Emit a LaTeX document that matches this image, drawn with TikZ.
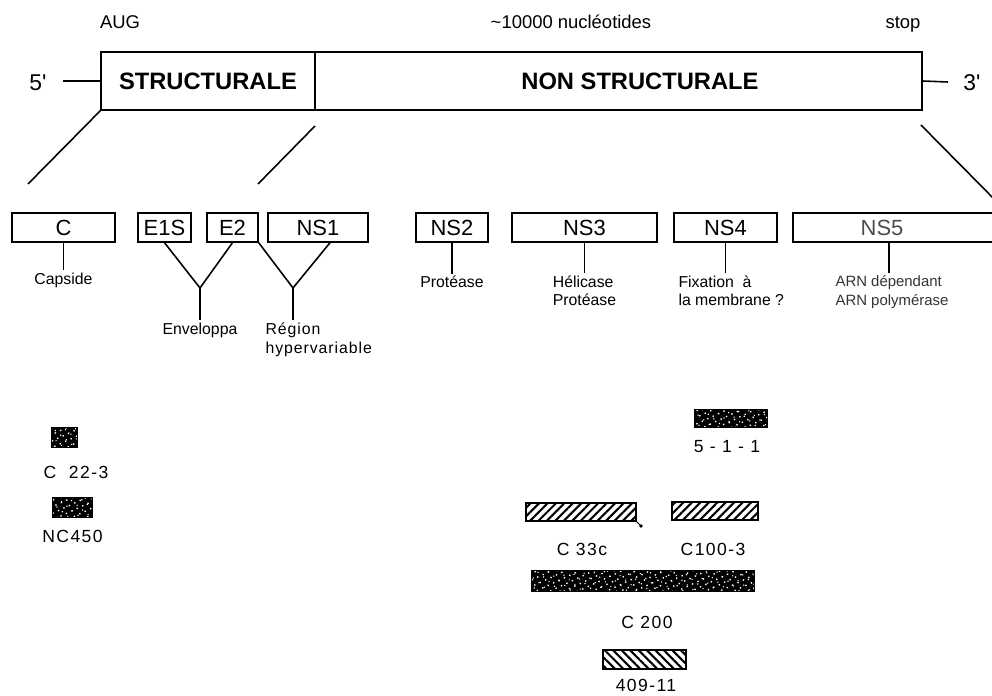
\documentclass[tikz,border=0pt]{standalone}
\usepackage{fontspec}
\setmainfont{Liberation Sans}
\usetikzlibrary{patterns.meta}

\begin{document}
\begin{tikzpicture}[x=0.02cm,y=-0.02cm,line width=0.9pt]
\tikzstyle{seg}=[draw, rectangle, line width=0.8pt, inner sep=0pt, minimum height=1.16cm]
\tikzstyle{segtext}=[font={\fontsize{13.5}{16}\selectfont\bfseries}]
\tikzstyle{prot}=[draw, rectangle, line width=0.8pt, inner sep=0pt, minimum height=0.58cm, font={\fontsize{12.5}{14}\selectfont}]
\tikzstyle{toplabel}=[font={\fontsize{10.5}{12}\selectfont}]
\tikzstyle{primelabel}=[font={\fontsize{13}{15}\selectfont}]
\tikzstyle{funclabel}=[inner sep=1pt, font={\fontsize{9}{10.6}\selectfont}]
\tikzstyle{bar}=[draw, line width=0.6pt, inner sep=0pt]
\tikzstyle{speck}=[bar, fill=black,
  postaction={pattern={Dots[distance=3.4pt,radius=0.55pt,angle=25]},pattern color=white},
  postaction={pattern={Dots[distance=4.1pt,radius=0.45pt,angle=-40,xshift=1pt]},pattern color=white}]
\tikzstyle{hatch}=[bar, pattern={Lines[angle=45,distance=3.4pt,line width=1.2pt]}]
\tikzstyle{rhatch}=[bar, pattern={Lines[angle=-45,distance=3.4pt,line width=1.2pt]}]
\tikzstyle{barlabel}=[font={\fontsize{10}{12}\selectfont\addfontfeature{LetterSpace=8}}]

\useasboundingbox (0,0) rectangle (992,696);

% genome
\draw (208,81) node[seg, minimum width=4.28cm] (struct) {};
\draw (618.5,81) node[seg, minimum width=12.14cm] (nonstruct) {};
\node[segtext] (structlbl) at (208,81) {STRUCTURALE};
\node[segtext] (nonstructlbl) at (640,81) {NON STRUCTURALE};

\node[toplabel] (aug) at (120,22) {AUG};
\node[toplabel] (nt) at (571,22) {\textasciitilde 10000 nucléotides};
\node[toplabel] (stop) at (903,24) {stop};
\node[primelabel] (five) at (38,83) {5\textquotesingle};
\node[primelabel] (three) at (972,83) {3\textquotesingle};
\coordinate (fiveend) at (63,81);
\coordinate (threeend) at (948,82);
\draw (fiveend) -- (struct.west);
\draw (nonstruct.east) -- (threeend);

% zoom lines
\coordinate (zl) at (28,184);
\coordinate (zm1) at (315,126);
\coordinate (zm2) at (258,184);
\coordinate (zr1) at (921,125);
\coordinate (zr2) at (998,203);
\draw (struct.south west) -- (zl);
\draw (zm1) -- (zm2);
\draw (zr1) -- (zr2);

% proteins
\draw (63.5,227.5) node[prot, minimum width=2.06cm] (C) {C};
\draw (164.5,227.5) node[prot, minimum width=1.06cm] (E1S) {E1S};
\draw (232.5,227.5) node[prot, minimum width=1.02cm] (E2) {E2};
\draw (318,227.5) node[prot, minimum width=2.0cm] (NS1) {NS1};
\draw (452,227.5) node[prot, minimum width=1.44cm] (NS2) {NS2};
\draw (584.5,227.5) node[prot, minimum width=2.9cm] (NS3) {NS3};
\draw (725.5,227.5) node[prot, minimum width=2.06cm] (NS4) {NS4};
\draw (894.5,227.5) node[prot, minimum width=4.06cm, text=black!70] (NS5) {NS5\hspace*{0.5cm}};

% functions
\node[funclabel] (capside) at (63.5,280) {Capside};
\draw (C.south) -- (capside.north);

\coordinate (envY) at (200,288);
\node[funclabel] (env) at (200,330) {Enveloppa};
\draw (E1S.south) -- (envY) -- (E2.south);
\draw (envY) -- (env.north);

\coordinate (hvY) at (293,288);
\node[funclabel, align=left, anchor=north west, font={\fontsize{9}{10.8}\selectfont\addfontfeature{LetterSpace=6}}] (hyper) at (263,320) {Région\\hypervariable};
\draw (E2.south east) -- (hvY) -- ([xshift=0.24cm]NS1.south);
\draw (hvY) -- (hvY |- hyper.north);

\node[funclabel] (prot2) at (452,282) {Protéase};
\draw (NS2.south) -- (prot2.north);

\node[funclabel, align=left, anchor=north] (ns3cap) at (584.5,273) {Hélicase\\Protéase};
\draw (NS3.south) -- (ns3cap.north);

\node[funclabel, align=left, anchor=north west] (ns4cap) at (676,273) {Fixation\ \ à\\la membrane ?};
\draw (NS4.south) -- (NS4.south |- ns4cap.north);

\node[funclabel, align=left, anchor=north west, font={\fontsize{8.5}{10.6}\selectfont}, text=black!80] (ns5cap) at (833,273) {ARN dépendant\\ARN polymérase};
\draw ([xshift=-0.11cm]NS5.south) -- ([xshift=-0.11cm]NS5.south |- ns5cap.north);

% antigens
\draw (64.5,437.5) node[speck, minimum width=0.5cm, minimum height=0.38cm] (c22) {};
\node[barlabel] (c22lbl) at (76,472) {C\ \ 22-3};
\draw (72.5,507.5) node[speck, minimum width=0.78cm, minimum height=0.38cm] (nc450) {};
\node[barlabel] (nc450lbl) at (72.5,536) {NC450};

\draw (731,418.5) node[speck, minimum width=1.44cm, minimum height=0.34cm] (p511) {};
\node[barlabel] (p511lbl) at (727,447) {5 - 1 - 1};

\draw (581,512) node[hatch, minimum width=2.2cm, minimum height=0.36cm] (c33c) {};
\coordinate (hook) at (641,526);
\draw[line width=0.6pt] (c33c.south east) -- (hook);
\fill (hook) circle (1pt);
\node[barlabel] (c33clbl) at (582,549) {C 33c};
\draw (715,511) node[hatch, minimum width=1.72cm, minimum height=0.36cm] (c100) {};
\node[barlabel] (c100lbl) at (713,549) {C100-3};

\draw (643,581) node[speck, minimum width=4.44cm, minimum height=0.4cm] (c200) {};
\node[barlabel] (c200lbl) at (647,622) {C 200};

\draw (644.5,659.5) node[rhatch, minimum width=1.66cm, minimum height=0.38cm] (p409) {};
\node[barlabel] (p409lbl) at (646,685) {409-11};
\end{tikzpicture}
\end{document}
